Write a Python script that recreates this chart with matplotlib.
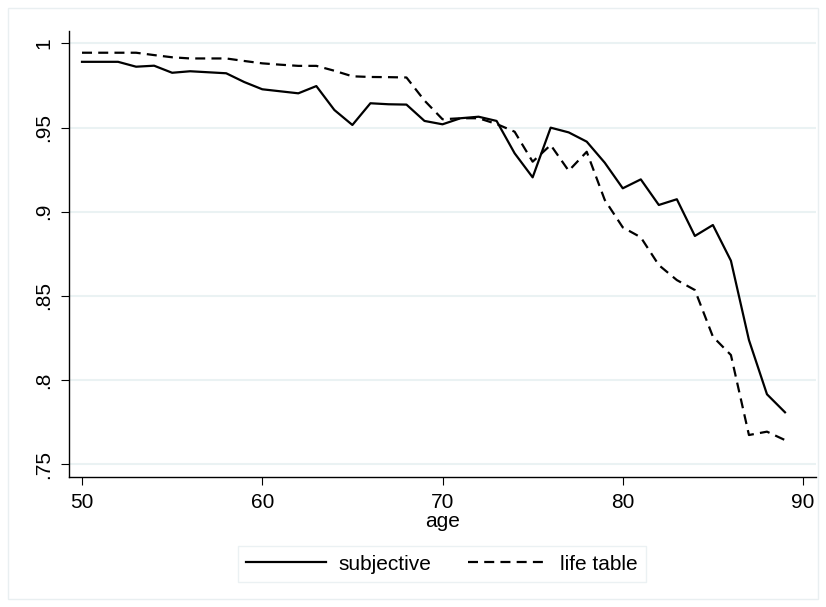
import matplotlib
matplotlib.use("Agg")
import matplotlib.pyplot as plt
from matplotlib.patches import Rectangle

plt.rcParams['font.family'] = ['Liberation Sans', 'DejaVu Sans']

age = list(range(50, 90))
subjective = [0.989, 0.989, 0.989, 0.9861, 0.9867, 0.9825, 0.9834, 0.9828, 0.9822, 0.977,
              0.9727, 0.9715, 0.9703, 0.9746, 0.9604, 0.9515, 0.9644, 0.9638, 0.9636, 0.9539,
              0.9519, 0.9555, 0.9564, 0.9539, 0.9347, 0.9204, 0.9499, 0.9471, 0.9416, 0.9291,
              0.9139, 0.9192, 0.904, 0.9074, 0.8856, 0.8921, 0.8709, 0.8238, 0.7916, 0.7809]
life_table = [0.9944, 0.9944, 0.9944, 0.9944, 0.993, 0.9917, 0.991, 0.991, 0.991, 0.9895,
              0.9881, 0.9873, 0.9866, 0.9866, 0.9837, 0.9804, 0.980, 0.9799, 0.9797, 0.966,
              0.9549, 0.9555, 0.9555, 0.9521, 0.9475, 0.9297, 0.9396, 0.9243, 0.9356, 0.907,
              0.8907, 0.8848, 0.8683, 0.8594, 0.8535, 0.8258, 0.8149, 0.7674, 0.7694, 0.7644]

xticks = [50, 60, 70, 80, 90]
yticks = [0.75, 0.8, 0.85, 0.9, 0.95, 1.0]
ytick_labels = ['.75', '.8', '.85', '.9', '.95', '1']

W, H = 826, 607
fig = plt.figure(figsize=(W / 100, H / 100), dpi=100)
fig.patch.set_facecolor('white')
# outer graph region outline
fig.patches.append(Rectangle((8 / W, 8 / H), 810 / W, 591 / H, transform=fig.transFigure,
                             fill=False, edgecolor='#e9eff1', linewidth=1.0))

ax = fig.add_axes([69.3 / W, 1 - 477.3 / H, (816 - 69.3) / W, (477.3 - 30.7) / H])
ax.plot(age, subjective, color='black', lw=1.6, label='subjective')
ax.plot(age, life_table, color='black', lw=1.6, dashes=(4.5, 2.8), label='life table')

ax.set_xlim(49.295, 90.72)
ax.set_ylim(0.7423, 1.00748)
ax.set_xticks(xticks)
ax.set_xticklabels([str(t) for t in xticks])
ax.set_yticks(yticks)
ax.set_yticklabels(ytick_labels, rotation=90, va='center')

ax.grid(axis='y', color='#eaf2f3', lw=1.5)
ax.grid(axis='x', visible=False)
ax.set_axisbelow(True)

for s in ['top', 'right']:
    ax.spines[s].set_visible(False)
for s in ['left', 'bottom']:
    ax.spines[s].set_linewidth(1.0)
    ax.spines[s].set_color('black')

ax.tick_params(axis='both', direction='out', length=6, width=0.8, labelsize=15, pad=5.5)

ax.set_xlabel('age', fontsize=15)
ax.xaxis.set_label_coords(0.5, (477.3 - 512) / (477.3 - 30.7))

leg = fig.legend(loc='center', bbox_to_anchor=(442 / W, 1 - 564 / H), ncol=2,
                 fontsize=15, handlelength=3.8, handletextpad=0.6, columnspacing=1.8,
                 frameon=True, fancybox=False, borderpad=0.4)
leg.get_frame().set_edgecolor('#e6eef0')
leg.get_frame().set_linewidth(1.0)

fig.savefig('out.png', dpi=100, facecolor='white')
